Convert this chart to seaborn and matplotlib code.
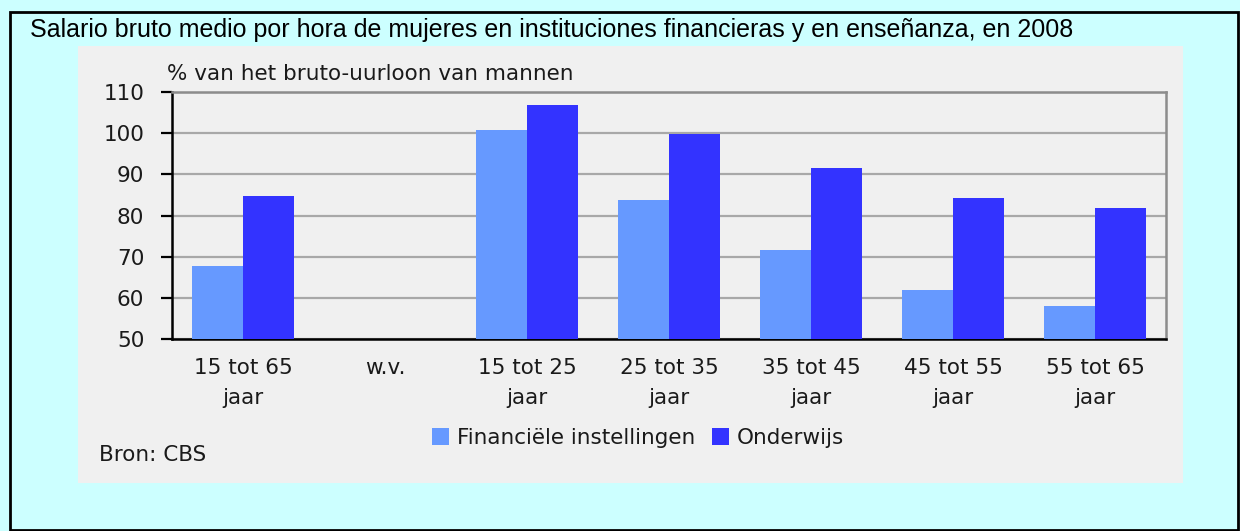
import matplotlib
matplotlib.use("Agg")
import matplotlib.pyplot as plt
import matplotlib.patches as mpatches
import numpy as np
import pandas as pd
import seaborn as sns

# ── Data ────────────────────────────────────────────────────────────────────
categories = ["15 tot 65\njaar", "w.v.", "15 tot 25\njaar", "25 tot 35\njaar",
              "35 tot 45\njaar", "45 tot 55\njaar", "55 tot 65\njaar"]
financieel = [67.7, np.nan, 100.8, 83.8, 71.5, 61.8, 57.9]
onderwijs  = [84.8, np.nan, 106.8, 99.9, 91.6, 84.3, 81.8]
series     = ["Financiële instellingen", "Onderwijs"]
yticks     = [50, 60, 70, 80, 90, 100, 110]

title   = "Salario bruto medio por hora de mujeres en instituciones financieras y en enseñanza, en 2008"
ylabel  = "% van het bruto-uurloon van mannen"
source  = "Bron: CBS"

df = pd.DataFrame({
    "categorie": categories * 2,
    "reeks": [series[0]] * len(categories) + [series[1]] * len(categories),
    "waarde": financieel + onderwijs,
})

# ── Style ───────────────────────────────────────────────────────────────────
sns.set_theme(style="white")
plt.rcParams["font.family"] = ["DejaVu Sans"]
FS  = 15.5
TXT = "#1A1A1A"

W, H = 1240, 531
fig = plt.figure(figsize=(W / 100, H / 100), dpi=100)
fig.patch.set_facecolor("#CCFFFF")

# outer black frame
fig.patches.append(mpatches.Rectangle((10 / W, 1 / H), (1238 - 10) / W, (530 - 12) / H,
                                      transform=fig.transFigure, fill=False,
                                      edgecolor="black", linewidth=2, zorder=-2))
# grey chart panel
fig.patches.append(mpatches.Rectangle((78 / W, 1 - 483 / H), (1183 - 78) / W, (483 - 46) / H,
                                      transform=fig.transFigure, facecolor="#F0F0F0",
                                      edgecolor="none", zorder=-2))

fig.text(30 / W, 1 - 30 / H, title, family=["Liberation Sans"], fontsize=18,
         ha="left", va="center", color="black")

ax = fig.add_axes([172 / W, 1 - 339 / H, (1166 - 172) / W, (339 - 92) / H])
ax.set_facecolor("#F0F0F0")

palette = {series[0]: "#6699FF", series[1]: "#3333FF"}
sns.barplot(data=df, x="categorie", y="waarde", hue="reeks", order=categories,
            hue_order=series, palette=palette, width=0.725, gap=0,
            errorbar=None, linewidth=0, saturation=1, ax=ax, zorder=3)

ax.set_ylim(50, 110)
ax.set_yticks(yticks)
ax.set_xlim(-0.5, len(categories) - 0.5)
ax.yaxis.grid(True, color="#A8A8A8", linewidth=1.6, zorder=0)
ax.set_axisbelow(True)
ax.set_xlabel("")
ax.set_ylabel("")

for side in ["left", "bottom"]:
    ax.spines[side].set_color("black")
    ax.spines[side].set_linewidth(1.8)
for side in ["top", "right"]:
    ax.spines[side].set_color("#8C8C8C")
    ax.spines[side].set_linewidth(1.8)
    ax.spines[side].set_visible(True)

ax.tick_params(axis="y", left=True, length=8, width=1.6, color="black",
               pad=12, labelsize=FS, labelcolor=TXT)
ax.tick_params(axis="x", bottom=False, pad=8, labelsize=FS, labelcolor=TXT)
for lbl in ax.get_xticklabels():
    lbl.set_linespacing(1.6)
    lbl.set_va("top")

fig.text(167 / W, 1 - 74 / H, ylabel, fontsize=FS, ha="left", va="center", color=TXT)
fig.text(99 / W, 1 - 455 / H, source, fontsize=FS, ha="left", va="center", color=TXT)

handles, labels = ax.get_legend_handles_labels()
ax.legend(handles, labels, loc="center", bbox_to_anchor=(638 / W, 1 - 438 / H),
          bbox_transform=fig.transFigure, ncol=2, frameon=False, fontsize=FS,
          handlelength=0.8, handleheight=0.8, handletextpad=0.35, columnspacing=0.8,
          labelcolor=TXT)

fig.savefig("out.png", dpi=100, facecolor=fig.get_facecolor())
